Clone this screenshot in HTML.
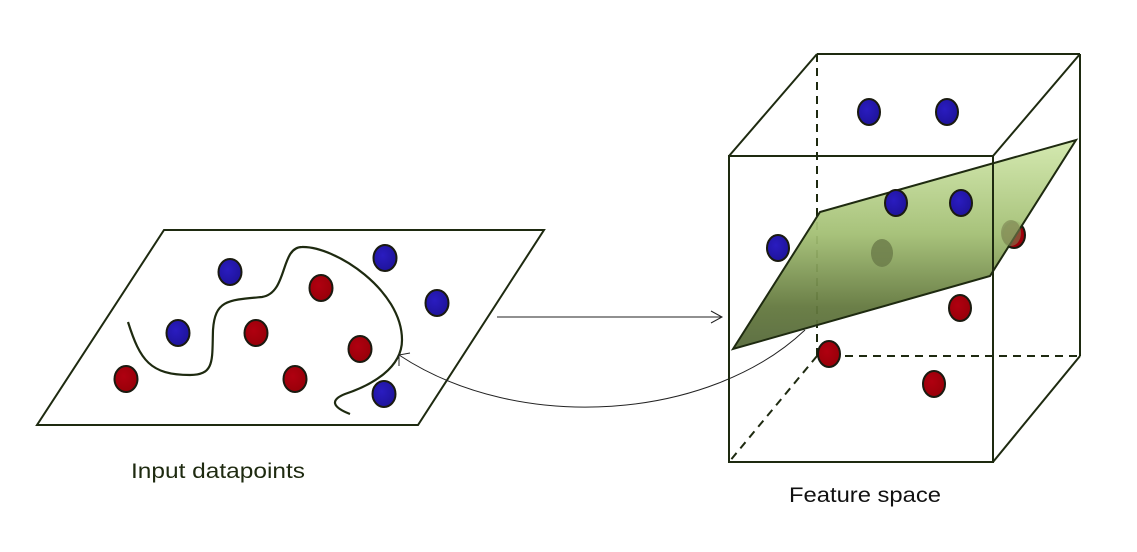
<!DOCTYPE html>
<html><head><meta charset="utf-8"><style>html,body{margin:0;padding:0;background:#fff}svg{display:block}</style></head>
<body>
<svg width="1137" height="552" viewBox="0 0 1137 552" xmlns="http://www.w3.org/2000/svg">
<defs>
<linearGradient id="g" x1="0" y1="0" x2="0" y2="1" gradientUnits="objectBoundingBox">
<stop offset="0" stop-color="#d2e8ac"/>
<stop offset="0.45" stop-color="#a3bf74"/>
<stop offset="0.8" stop-color="#63783e"/>
<stop offset="1" stop-color="#56693a"/>
</linearGradient>
<radialGradient id="b" cx="0.4" cy="0.4" r="0.7"><stop offset="0" stop-color="#2a1cc0"/><stop offset="1" stop-color="#1d1296"/></radialGradient>
<radialGradient id="r" cx="0.4" cy="0.4" r="0.7"><stop offset="0" stop-color="#b00010"/><stop offset="1" stop-color="#950008"/></radialGradient>
</defs>
<g fill="none" stroke="#1e2a10" stroke-width="2">
<polygon points="164,230 544,230 418,425 37,425" fill="#fff"/>
<path d="M128,322 C140,360 150,375 190,375 C215,375 212,360 213,330 C215,300 228,300 262,297 C288,293 280,247 302,247 C335,246 402,290 402,340 C402,368 372,385 345,394 C330,400 332,407 350,414" stroke-width="2.2"/>
</g>
<g stroke="#1a1a10" stroke-width="2">
<ellipse cx="230" cy="272" rx="11.5" ry="13" fill="url(#b)"/>
<ellipse cx="385" cy="258" rx="11.5" ry="13" fill="url(#b)"/>
<ellipse cx="437" cy="303" rx="11.5" ry="13" fill="url(#b)"/>
<ellipse cx="178" cy="333" rx="11.5" ry="13" fill="url(#b)"/>
<ellipse cx="384" cy="394" rx="11.5" ry="13" fill="url(#b)"/>
<ellipse cx="321" cy="288" rx="11.5" ry="13" fill="url(#r)"/>
<ellipse cx="256" cy="333" rx="11.5" ry="13" fill="url(#r)"/>
<ellipse cx="360" cy="349" rx="11.5" ry="13" fill="url(#r)"/>
<ellipse cx="295" cy="379" rx="11.5" ry="13" fill="url(#r)"/>
<ellipse cx="126" cy="379" rx="11.5" ry="13" fill="url(#r)"/>
</g>
<!-- arrows -->
<g fill="none" stroke="#222" stroke-width="1">
<line x1="497" y1="317" x2="722" y2="317"/>
<polyline points="711,311 722,317 711,323"/>
<path d="M805,330 C710,420 520,435 399,355"/>
<polyline points="410,353 399,355 399,366"/>
</g>
<!-- cube back -->
<g fill="none" stroke="#1e2a10" stroke-width="2">
<line x1="817" y1="54" x2="1080" y2="54"/>
<line x1="1080" y1="54" x2="1080" y2="356"/>
<line x1="817" y1="54" x2="729" y2="156"/>
<line x1="1080" y1="54" x2="993" y2="156"/>
<line x1="1080" y1="356" x2="993" y2="462"/>
<g stroke-dasharray="8,6">
<line x1="817" y1="54" x2="817" y2="356"/>
<line x1="817" y1="356" x2="1080" y2="356"/>
<line x1="817" y1="356" x2="729" y2="462"/>
</g>
</g>
<g stroke="#1a1a10" stroke-width="2">
<ellipse cx="869" cy="112" rx="11" ry="13" fill="url(#b)"/>
<ellipse cx="947" cy="112" rx="11" ry="13" fill="url(#b)"/>
<ellipse cx="778" cy="248" rx="11" ry="13" fill="url(#b)"/>
<ellipse cx="1014" cy="235" rx="11" ry="13" fill="url(#r)"/>
<ellipse cx="960" cy="308" rx="11" ry="13" fill="url(#r)"/>
<ellipse cx="829" cy="354" rx="11" ry="13" fill="url(#r)"/>
<ellipse cx="934" cy="384" rx="11" ry="13" fill="url(#r)"/>
</g>
<polygon points="733,349 820,212 1076,140 990,276" fill="url(#g)" fill-opacity="0.95" stroke="#1e2a10" stroke-width="2"/>
<ellipse cx="882" cy="253" rx="11" ry="14" fill="#6a7a48" opacity="0.8"/>
<ellipse cx="1011" cy="233" rx="10" ry="13" fill="#7a8050" opacity="0.6"/>
<g stroke="#1a1a10" stroke-width="2">
<ellipse cx="896" cy="203" rx="11" ry="13" fill="url(#b)"/>
<ellipse cx="961" cy="203" rx="11" ry="13" fill="url(#b)"/>
</g>
<!-- cube front -->
<rect x="729" y="156" width="264" height="306" fill="none" stroke="#1e2a10" stroke-width="2"/>
<g font-family="Liberation Sans, sans-serif" font-size="21" fill="#1e2a10">
<text x="131" y="478" textLength="174" lengthAdjust="spacingAndGlyphs">Input datapoints</text>
<text x="789" y="502" fill="#111" textLength="152" lengthAdjust="spacingAndGlyphs">Feature space</text>
</g>
</svg>
</body></html>
